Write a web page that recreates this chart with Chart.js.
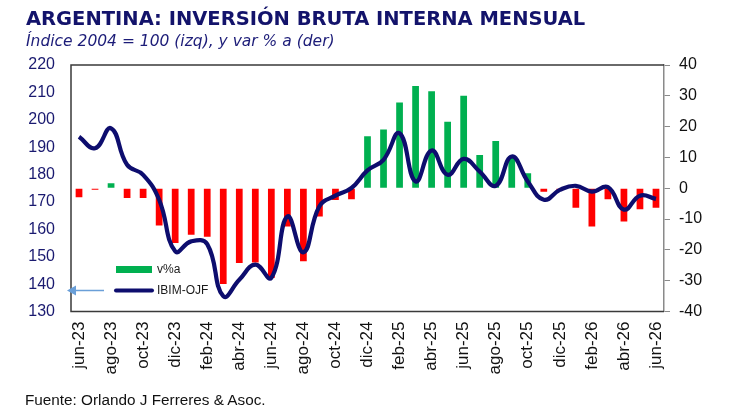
<!DOCTYPE html>
<html>
<head>
<meta charset="utf-8">
<script src="https://cdn.jsdelivr.net/npm/chart.js@4.4.1/dist/chart.umd.min.js"></script>
<style>
  html, body { margin: 0; padding: 0; background: #ffffff; }
  #wrap { position: relative; width: 730px; height: 417px; overflow: hidden; }
  #chartBox { position: absolute; left: 0; top: 0; width: 730px; height: 417px; }
  .title { position: absolute; left: 26px; top: 8px; font-family: "DejaVu Sans", Verdana, sans-serif; font-weight: bold; font-size: 19.5px; color: #13136b; white-space: nowrap; line-height: 22px; }
  .subtitle { position: absolute; left: 26px; top: 31px; font-family: "DejaVu Sans", Verdana, sans-serif; font-style: italic; font-size: 15.5px; color: #1c1c78; white-space: nowrap; line-height: 20px; }
  .source { position: absolute; left: 25px; top: 391px; font-family: "Liberation Sans", Arial, sans-serif; font-size: 15.3px; color: #111; white-space: nowrap; line-height: 18px; }
</style>
</head>
<body>
<div id="wrap">
  <div id="chartBox"><canvas id="c"></canvas></div>
  <div class="title">ARGENTINA: INVERSIÓN BRUTA INTERNA MENSUAL</div>
  <div class="subtitle">Índice 2004 = 100 (izq), y var % a (der)</div>
  <div class="source">Fuente: Orlando J Ferreres &amp; Asoc.</div>
</div>
<script>
// ---- data ----
const months = [
  "jun-23","jul-23","ago-23","sep-23","oct-23","nov-23","dic-23",
  "ene-24","feb-24","mar-24","abr-24","may-24","jun-24","jul-24","ago-24","sep-24","oct-24","nov-24","dic-24",
  "ene-25","feb-25","mar-25","abr-25","may-25","jun-25","jul-25","ago-25","sep-25","oct-25","nov-25","dic-25",
  "ene-26","feb-26","mar-26","abr-26","may-26","jun-26"
];
// IBIM-OJF index (left axis, 2004 = 100)
const ibimIndex = [
  193.8, 189.6, 196.9, 183.6, 179.9, 170.8, 152.0,
  155.6, 154.6, 135.6, 141.6, 147.1, 142.3, 164.7, 151.6, 168.4, 172.3, 175.1, 181.5,
  185.4, 195.1, 177.5, 188.8, 179.9, 185.7, 181.1, 175.9, 186.6, 177.5, 170.8, 174.4,
  175.9, 173.8, 175.4, 167.2, 172.3, 171.1
];
// year-on-year % change (right axis)
const yoyChange = [
  -2.9, -0.5, 1.6, -3.2, -3.2, -12.1, -17.8,
  -15.1, -15.7, -31.1, -24.3, -24.1, -29.1, -12.4, -23.7, -9.2, -3.8, -3.6, 16.9,
  19.1, 27.8, 33.2, 31.5, 21.6, 30.0, 10.8, 15.3, 10.5, 4.9, -1.1, -0.8,
  -6.3, -12.4, -3.6, -10.8, -6.8, -6.3
];
const leftTicks = { min: 130, max: 220, step: 10 };
const rightTicks = { min: -40, max: 40, step: 10 };
const seriesNames = { bars: "v%a", line: "IBIM-OJF" };

const NAVY = "#0d0d6e";
const GREEN = "#00b050";
const RED = "#ff0000";

const frame = {
  id: "frame",
  afterDatasetsDraw(chart) {
    const { ctx, chartArea: a } = chart;
    ctx.save();
    ctx.strokeStyle = "#3a3a3a";
    ctx.lineWidth = 1.5;
    ctx.beginPath();
    ctx.moveTo(a.right, a.top);
    ctx.lineTo(a.left, a.top);
    ctx.lineTo(a.left, a.bottom);
    ctx.lineTo(a.right, a.bottom);
    ctx.stroke();
    ctx.restore();
  }
};

const innerLegend = {
  id: "innerLegend",
  afterDraw(chart) {
    const { ctx, chartArea: a } = chart;
    const x0 = a.left + 45, x1 = a.left + 81;
    const y1 = a.bottom - 42, y2 = a.bottom - 21;
    ctx.save();
    ctx.fillStyle = GREEN;
    ctx.fillRect(x0, y1 - 3.5, x1 - x0, 7);
    ctx.strokeStyle = NAVY;
    ctx.lineWidth = 4;
    ctx.lineCap = "round";
    ctx.beginPath();
    ctx.moveTo(x0, y2);
    ctx.lineTo(x1, y2);
    ctx.stroke();
    ctx.fillStyle = "#1a1a1a";
    ctx.font = "12px 'Liberation Sans', Arial, sans-serif";
    ctx.textBaseline = "middle";
    ctx.fillText(seriesNames.bars, x1 + 5, y1);
    ctx.fillText(seriesNames.line, x1 + 5, y2);
    // arrow pointing to left axis
    ctx.strokeStyle = "#6a9fd8";
    ctx.fillStyle = "#6a9fd8";
    ctx.lineWidth = 1.5;
    ctx.lineCap = "butt";
    ctx.beginPath();
    ctx.moveTo(a.left + 33, y2);
    ctx.lineTo(a.left - 1, y2);
    ctx.stroke();
    ctx.beginPath();
    ctx.moveTo(a.left - 4, y2);
    ctx.lineTo(a.left + 5, y2 - 5);
    ctx.lineTo(a.left + 5, y2 + 5);
    ctx.closePath();
    ctx.fill();
    ctx.restore();
  }
};

new Chart(document.getElementById("c"), {
  data: {
    labels: months,
    datasets: [
      {
        type: "line",
        label: seriesNames.line,
        data: ibimIndex,
        yAxisID: "y",
        borderColor: NAVY,
        borderWidth: 4.2,
        pointRadius: 0,
        tension: 0.45,
        cubicInterpolationMode: "default",
        order: 0
      },
      {
        type: "bar",
        label: seriesNames.bars,
        data: yoyChange,
        yAxisID: "y1",
        backgroundColor: (c) => (c.raw >= 0 ? GREEN : RED),
        borderWidth: 0,
        categoryPercentage: 1,
        barPercentage: 0.42,
        order: 1
      }
    ]
  },
  options: {
    responsive: true,
    maintainAspectRatio: false,
    animation: false,
    layout: { padding: { top: 65, bottom: 35, left: 0, right: 0 } },
    plugins: { legend: { display: false }, tooltip: { enabled: false } },
    scales: {
      x: {
        type: "category",
        offset: true,
        grid: { display: false, drawTicks: false },
        border: { display: false },
        afterFit(s) { s.height = 70.5; },
        ticks: {
          autoSkip: false,
          maxRotation: 90,
          minRotation: 90,
          padding: 10,
          color: "#111",
          font: { family: "'Liberation Sans', Arial, sans-serif", size: 17 },
          callback(v, i) { return i % 2 === 0 ? months[i] : ""; }
        }
      },
      y: {
        position: "left",
        min: leftTicks.min,
        max: leftTicks.max,
        grid: { display: false, drawTicks: false },
        border: { display: false },
        afterFit(s) { s.width = 71; },
        ticks: {
          stepSize: leftTicks.step,
          padding: 16,
          color: "#1a1a70",
          font: { family: "'Liberation Sans', Arial, sans-serif", size: 16 }
        }
      },
      y1: {
        position: "right",
        min: rightTicks.min,
        max: rightTicks.max,
        grid: { drawOnChartArea: false, drawTicks: true, tickLength: 6, color: "#8a8a8a", lineWidth: 1 },
        border: { display: true, color: "#8a8a8a", width: 1.5 },
        afterFit(s) { s.width = 66; },
        ticks: {
          stepSize: rightTicks.step,
          padding: 9,
          color: "#111",
          font: { family: "'Liberation Sans', Arial, sans-serif", size: 16 }
        }
      }
    }
  },
  plugins: [frame, innerLegend]
});
</script>
</body>
</html>
